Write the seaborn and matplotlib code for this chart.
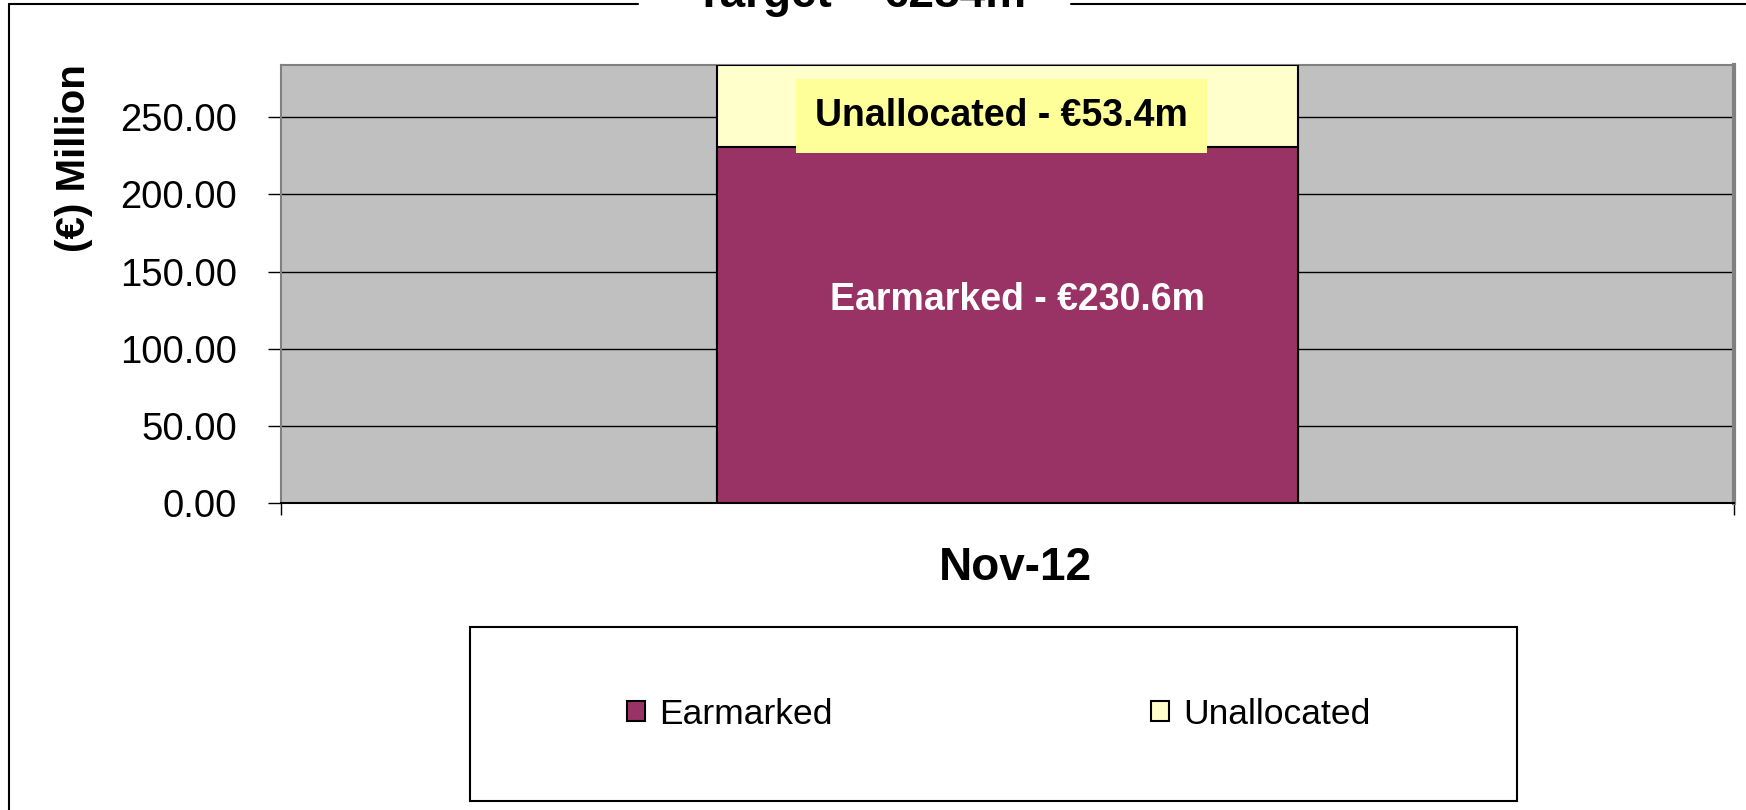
import matplotlib
matplotlib.use("Agg")
import matplotlib.pyplot as plt
from matplotlib.patches import Patch, Rectangle
from matplotlib.lines import Line2D
import seaborn as sns
import pandas as pd

# chart data
months = ["Nov-12"]
earmarked = [230.6]
unallocated = [53.4]
target = 284
title_text = "Target \u2013 \u20ac284m"

sns.set_style("white")
plt.rcParams['font.family'] = ['Liberation Sans', 'DejaVu Sans']
plt.rcParams['text.color'] = 'black'
plt.rcParams['xtick.color'] = 'black'
plt.rcParams['ytick.color'] = 'black'
plt.rcParams['axes.labelcolor'] = 'black'

df = pd.DataFrame({"month": months, "earmarked": earmarked, "unallocated": unallocated})
df["total"] = df["earmarked"] + df["unallocated"]

col_earmarked = "#993366"
col_unalloc = "#FFFFCC"

fig = plt.figure(figsize=(17.46, 8.10), dpi=100)
ax = fig.add_axes([0.1607, 0.3786, 0.8323, 0.5416])
ax.set_facecolor("#C0C0C0")

# stacked bar: total first (unallocated colour), earmarked on top of it
sns.barplot(data=df, x="month", y="total", color=col_unalloc, saturation=1,
            width=0.4, edgecolor="black", linewidth=1.5, ax=ax, zorder=3)
sns.barplot(data=df, x="month", y="earmarked", color=col_earmarked, saturation=1,
            width=0.4, edgecolor="black", linewidth=1.5, ax=ax, zorder=3)

ax.set_xlim(-0.5, 0.5)
ax.set_ylim(0, target)
yt = [0, 50, 100, 150, 200, 250]
ax.set_yticks(yt)
ax.set_yticklabels([f"{v:.2f}" for v in yt], fontsize=27.5)
ax.yaxis.grid(True, color="black", linewidth=1)
ax.set_axisbelow(True)
ax.tick_params(axis="y", direction="out", length=9.4, width=1, color="black", pad=22, left=True)

ax.set_xticks([-0.5, 0.5])
ax.set_xticklabels(["", ""])
ax.set_xticks([0.006], minor=True)
ax.set_xticklabels(months, minor=True, fontsize=33, fontweight="bold")
ax.tick_params(axis="x", which="major", direction="out", length=8.6, width=1, color="black", bottom=True)
ax.tick_params(axis="x", which="minor", length=0, pad=31)
ax.set_xlabel("")
ax.set_ylabel("")

for side in ["left", "top"]:
    ax.spines[side].set_color("#808080")
    ax.spines[side].set_linewidth(1.5)
ax.spines["right"].set_color("#808080")
ax.spines["right"].set_linewidth(3)
ax.spines["bottom"].set_color("black")
ax.spines["bottom"].set_linewidth(1.5)

# segment labels
ax.text(0.007, earmarked[0] * 0.572, f"Earmarked - \u20ac{earmarked[0]}m", ha="center", va="center",
        color="white", fontsize=27, fontweight="bold", zorder=5)
ax.text(-0.004, earmarked[0] + unallocated[0] * 0.375, f"Unallocated - \u20ac{unallocated[0]}m",
        ha="center", va="center", color="black", fontsize=27, fontweight="bold", zorder=5,
        bbox=dict(boxstyle="square,pad=0.5", facecolor="#FFFF99", edgecolor="none"))

# y label and title
fig.text(74 / 1746, 1 - 158 / 810, "(\u20ac) Million", rotation=90, ha="center", va="center",
         fontsize=29, fontweight="bold")
fig.text(861 / 1746, 1 - 7 / 810, title_text, ha="center", va="baseline",
         fontsize=33, fontweight="bold")

# outer frame (broken by title)
fy = 1 - 4 / 810
fig.add_artist(Line2D([9 / 1746, 638 / 1746], [fy, fy], color="black", lw=1.5, transform=fig.transFigure))
fig.add_artist(Line2D([1071 / 1746, 1.0], [fy, fy], color="black", lw=1.5, transform=fig.transFigure))
fig.add_artist(Line2D([9 / 1746, 9 / 1746], [0, fy], color="black", lw=1.5, transform=fig.transFigure))

# legend box
fig.add_artist(Rectangle((470 / 1746, 1 - 801 / 810), 1047 / 1746, 174 / 810, fill=False,
                         edgecolor="black", lw=1.5, transform=fig.transFigure))
handles = [Patch(facecolor=col_earmarked, edgecolor="black", lw=1.5, label="Earmarked"),
           Patch(facecolor=col_unalloc, edgecolor="black", lw=1.5, label="Unallocated")]
ax.legend(handles=handles, loc="center", bbox_to_anchor=(999 / 1746, 1 - 714 / 810),
          bbox_transform=fig.transFigure, frameon=False, ncol=2, fontsize=25.5,
          columnspacing=9.0, handlelength=0.5, handleheight=0.5, handletextpad=0.4)

fig.savefig("out.png", dpi=100)
